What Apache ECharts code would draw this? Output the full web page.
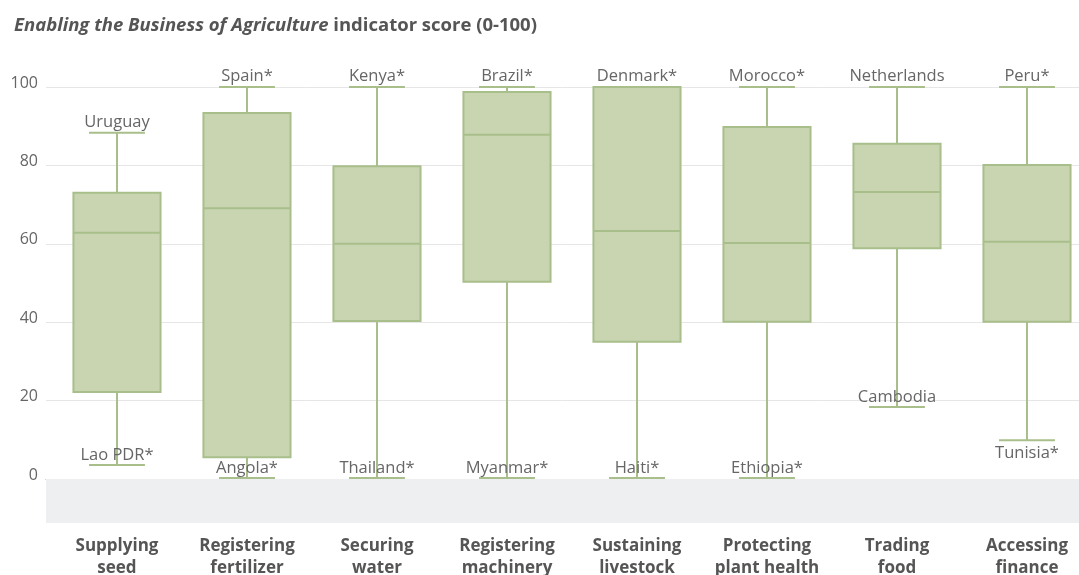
<!DOCTYPE html>
<html>
<head>
<meta charset="utf-8">
<script src="https://cdn.jsdelivr.net/npm/echarts@6/dist/echarts.min.js"></script>
<style>
  html, body { margin: 0; padding: 0; background: #fff; }
  #chart { width: 1079px; height: 575px; }
</style>
</head>
<body>
<div id="chart"></div>
<script>
// indicators (x categories)
var categories = ['Supplying\nseed', 'Registering\nfertilizer', 'Securing\nwater', 'Registering\nmachinery',
  'Sustaining\nlivestock', 'Protecting\nplant health', 'Trading\nfood', 'Accessing\nfinance'];

// five-number summaries
var minVals = [3.6, 0.3, 0.3, 0.3, 0.3, 0.3, 18.4, 9.9];
var q1Vals = [22.2, 5.6, 40.3, 50.3, 35.0, 40.1, 58.9, 40.1];
var medianVals = [62.8, 69.1, 60.0, 87.8, 63.3, 60.2, 73.2, 60.5];
var q3Vals = [73.0, 93.4, 79.8, 98.7, 100, 89.8, 85.5, 80.1];
var maxVals = [88.3, 100, 100, 100, 100, 100, 100, 100];

// economies at the whisker ends
var topLabels = ['Uruguay', 'Spain*', 'Kenya*', 'Brazil*', 'Denmark*', 'Morocco*', 'Netherlands', 'Peru*'];
var bottomLabels = ['Lao PDR*', 'Angola*', 'Thailand*', 'Myanmar*', 'Haiti*', 'Ethiopia*', 'Cambodia', 'Tunisia*'];

var yMin = -11.2, yMax = 100;

var rows = categories.map(function (c, i) {
  return [i, minVals[i], q1Vals[i], medianVals[i], q3Vals[i], maxVals[i]];
});

var lineColor = '#a9bf8b';
var fillColor = '#c9d5b1';
var fontFamily = '"Open Sans", "Noto Sans", sans-serif';
// label goes under the cap instead of above it
var labelBelow = { 'Tunisia*': true };

function renderItem(params, api) {
  var i = api.value(0);
  var lo = api.coord([i, api.value(1)]);
  var q1 = api.coord([i, api.value(2)]);
  var md = api.coord([i, api.value(3)]);
  var q3 = api.coord([i, api.value(4)]);
  var hi = api.coord([i, api.value(5)]);
  var base = api.coord([i, yMin]);
  var unit = api.size([1, 0])[0];
  var x = lo[0];
  var boxW = unit * 0.67, capW = unit * 0.43;
  var ls = { stroke: lineColor, lineWidth: 2 };
  var idx = params.dataIndex;
  var botName = bottomLabels[idx];
  var below = labelBelow[botName];
  var labelFont = '16.5px ' + fontFamily;

  return {
    type: 'group',
    children: [
      { type: 'line', shape: { x1: x, y1: hi[1], x2: x, y2: q3[1] }, style: ls },
      { type: 'line', shape: { x1: x, y1: q1[1], x2: x, y2: lo[1] }, style: ls },
      { type: 'line', shape: { x1: x - capW / 2, y1: hi[1], x2: x + capW / 2, y2: hi[1] }, style: ls },
      { type: 'line', shape: { x1: x - capW / 2, y1: lo[1], x2: x + capW / 2, y2: lo[1] }, style: ls },
      { type: 'rect', shape: { x: x - boxW / 2, y: q3[1], width: boxW, height: q1[1] - q3[1] },
        style: { fill: fillColor, stroke: lineColor, lineWidth: 2 } },
      { type: 'line', shape: { x1: x - boxW / 2, y1: md[1], x2: x + boxW / 2, y2: md[1] }, style: ls },
      { type: 'text', x: x, y: hi[1] - 2,
        style: { text: topLabels[idx], fill: '#666', font: labelFont, align: 'center', verticalAlign: 'bottom' } },
      { type: 'text', x: x, y: below ? lo[1] + 5 : lo[1] - 1,
        style: { text: botName, fill: '#666', font: labelFont, align: 'center', verticalAlign: below ? 'top' : 'bottom' } },
      { type: 'text', x: x, y: base[1] + 12,
        style: { text: categories[idx], fill: '#555', font: 'bold 17px ' + fontFamily, align: 'center', verticalAlign: 'top', lineHeight: 22 } }
    ]
  };
}

var chart = echarts.init(document.getElementById('chart'));
chart.setOption({
  animation: false,
  textStyle: { fontFamily: fontFamily },
  title: {
    left: 9,
    top: 11,
    text: '{i|Enabling the Business of Agriculture} {b|indicator score (0-100)}',
    textStyle: {
      rich: {
        i: { fontStyle: 'italic', fontWeight: 'bold', fontSize: 18.5, color: '#555', fontFamily: fontFamily },
        b: { fontWeight: 'bold', fontSize: 18.5, color: '#555', fontFamily: fontFamily }
      }
    }
  },
  grid: { left: 46, right: 0, top: 87, bottom: 52 },
  xAxis: {
    type: 'value',
    min: -0.546,
    max: 7.4,
    axisLine: { show: true, onZero: true, lineStyle: { color: '#999', width: 1 } },
    axisTick: { show: false },
    axisLabel: { show: false },
    splitLine: { show: false }
  },
  yAxis: {
    type: 'value',
    min: yMin,
    max: yMax,
    splitNumber: 5,
    axisLine: { show: false },
    axisTick: { show: false },
    axisLabel: {
      color: '#666', fontSize: 16, margin: 8,
      verticalAlign: 'bottom', lineHeight: 8,
      showMinLabel: false
    },
    splitLine: { show: true, showMinLine: false, lineStyle: { color: '#e6e6e6' } }
  },
  series: [{
    type: 'custom',
    renderItem: renderItem,
    data: rows,
    clip: false,
    encode: { x: 0, y: [1, 2, 3, 4, 5] },
    markArea: {
      silent: true,
      itemStyle: { color: '#eeeff1' },
      data: [[{ yAxis: yMin }, { yAxis: 0 }]]
    }
  }]
});
</script>
</body>
</html>
